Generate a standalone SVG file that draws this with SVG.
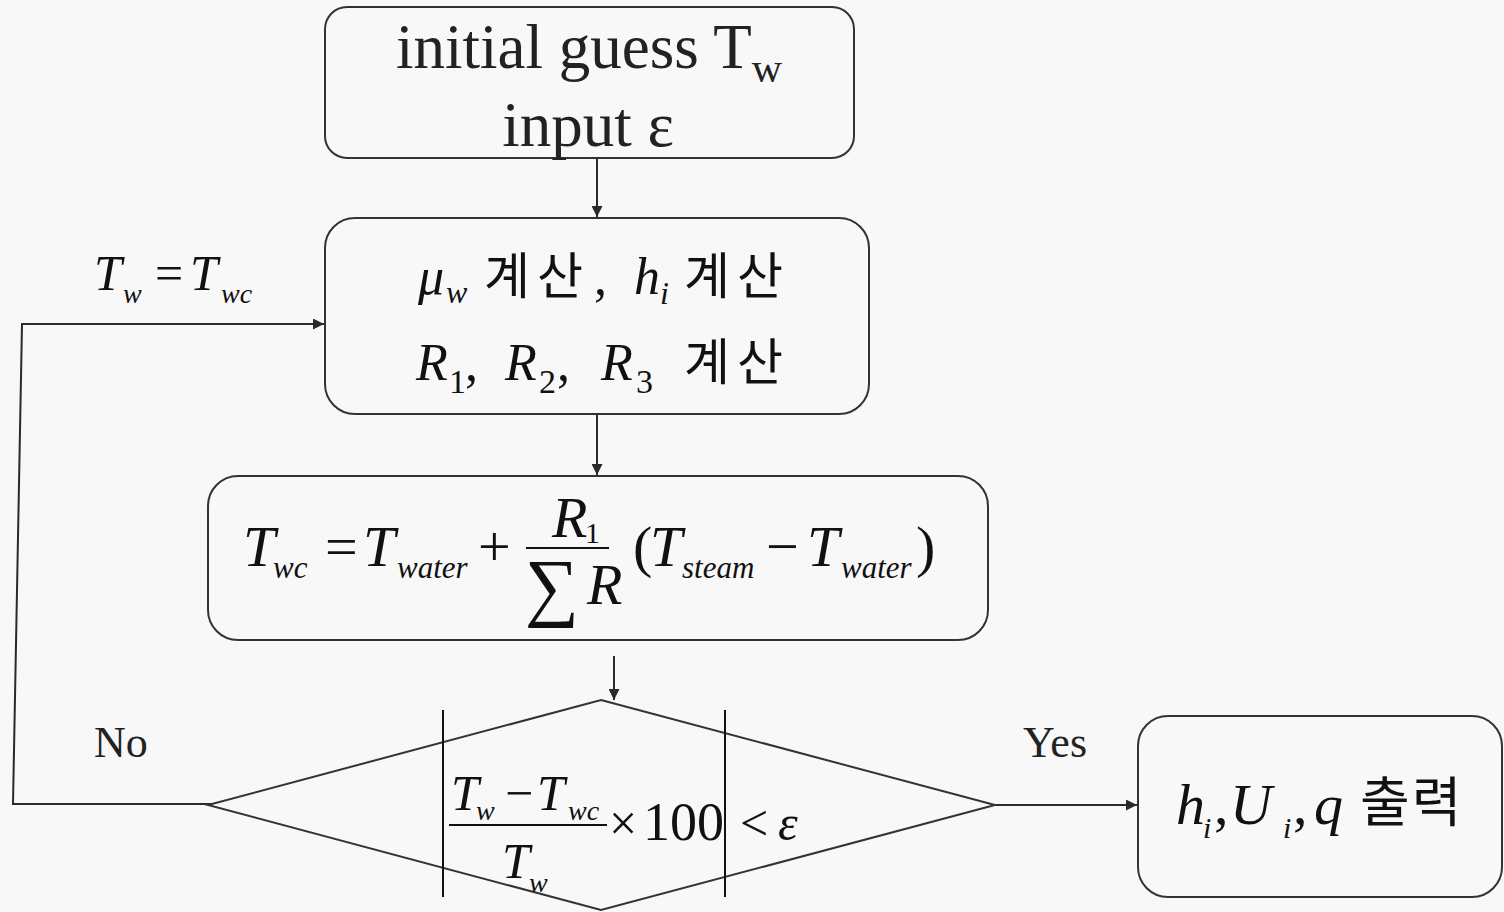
<svg xmlns="http://www.w3.org/2000/svg" width="1504" height="912" viewBox="0 0 1504 912">
<defs>
<marker id="arr" viewBox="0 0 10 10" refX="10" refY="5" markerWidth="11" markerHeight="11" markerUnits="userSpaceOnUse" orient="auto">
<path d="M0,0 L10,5 L0,10 Z" fill="#2a2a2a"/>
</marker>
<style>
.box{fill:#f8f8f8;stroke:#333;stroke-width:2}
.ln{fill:none;stroke:#2a2a2a;stroke-width:2}
.t{font-family:"Liberation Serif","Times New Roman",serif;fill:#222}
.m{font-family:"Liberation Serif","Times New Roman",serif;font-style:italic;fill:#111}
.r{font-family:"Liberation Serif","Times New Roman",serif;font-style:normal;fill:#111}
.k{font-family:"Noto Sans CJK KR","Noto Sans",sans-serif;fill:#111}
</style>
</defs>
<rect width="1504" height="912" fill="#f8f8f8"/>

<g id="connectors">
<line class="ln" x1="597" y1="158" x2="597" y2="217" marker-end="url(#arr)"/>
<line class="ln" x1="597" y1="414" x2="597" y2="475" marker-end="url(#arr)"/>
<line class="ln" x1="614" y1="656" x2="614" y2="700" marker-end="url(#arr)"/>
<line class="ln" x1="995" y1="805" x2="1137" y2="805" marker-end="url(#arr)"/>
<polyline class="ln" points="222,804 13,804 22,324 324,324" marker-end="url(#arr)"/>
</g>

<g id="n_init">
<rect class="box" x="325" y="7" width="529" height="151" rx="22"/>
<text class="t" x="396" y="68" font-size="63">initial guess T<tspan font-size="42" dy="14">w</tspan></text>
<text class="t" x="588" y="146" font-size="63" text-anchor="middle">input ε</text>
</g>

<g id="n_calc">
<rect class="box" x="325" y="218" width="544" height="196" rx="30"/>
<text font-size="52"><tspan class="m" x="418" y="294">μ</tspan><tspan class="m" x="446" y="303" font-size="32">w</tspan><tspan class="k" x="484" y="294" font-size="50" letter-spacing="7">계산</tspan><tspan class="r" x="594" y="294">,</tspan><tspan class="m" x="634" y="294">h</tspan><tspan class="m" x="660" y="304" font-size="32">i</tspan><tspan class="k" x="684" y="294" font-size="50" letter-spacing="7">계산</tspan></text>
<text font-size="52"><tspan class="m" x="416" y="380">R</tspan><tspan class="r" x="449" y="393" font-size="34">1</tspan><tspan class="r" x="465" y="380">,</tspan><tspan class="m" x="505" y="380">R</tspan><tspan class="r" x="539" y="393" font-size="34">2</tspan><tspan class="r" x="557" y="380">,</tspan><tspan class="m" x="601" y="380">R</tspan><tspan class="r" x="636" y="393" font-size="34">3</tspan><tspan class="k" x="684" y="380" font-size="50" letter-spacing="7">계산</tspan></text>
</g>

<g id="n_formula">
<rect class="box" x="208" y="476" width="780" height="164" rx="30"/>
<text font-size="58"><tspan class="m" x="243" y="566">T</tspan><tspan class="m" x="273" y="578" font-size="31">wc</tspan><tspan class="r" x="325" y="566">=</tspan><tspan class="m" x="363" y="566">T</tspan><tspan class="m" x="397" y="578" font-size="31">water</tspan><tspan class="r" x="478" y="566">+</tspan><tspan class="m" x="552" y="537">R</tspan><tspan class="r" x="585" y="543" font-size="30">1</tspan><tspan class="m" x="587" y="604">R</tspan><tspan class="r" x="633" y="566">(</tspan><tspan class="m" x="650" y="566">T</tspan><tspan class="m" x="682" y="578" font-size="31">steam</tspan><tspan class="r" x="766" y="566">−</tspan><tspan class="m" x="807" y="566">T</tspan><tspan class="m" x="841" y="578" font-size="31">water</tspan><tspan class="r" x="916" y="566">)</tspan></text>
<line x1="526" y1="548" x2="609" y2="548" stroke="#111" stroke-width="2"/>
<text class="r" x="525" y="612" font-size="76">∑</text>
</g>

<g id="n_check">
<polygon class="box" points="601,700 995,805 601,910 208,805"/>
<line x1="443" y1="710" x2="443" y2="897" stroke="#111" stroke-width="2"/>
<line x1="725" y1="710" x2="725" y2="897" stroke="#111" stroke-width="2"/>
<line x1="449" y1="825" x2="607" y2="825" stroke="#111" stroke-width="2"/>
<text font-size="50"><tspan class="m" x="451" y="810">T</tspan><tspan class="m" x="476" y="820" font-size="28">w</tspan><tspan class="r" x="505" y="810">−</tspan><tspan class="m" x="537" y="810">T</tspan><tspan class="m" x="568" y="820" font-size="28">wc</tspan><tspan class="m" x="502" y="878">T</tspan><tspan class="m" x="529" y="892" font-size="28">w</tspan><tspan class="r" x="609" y="840">×</tspan><tspan class="r" x="643" y="840" font-size="54">100</tspan><tspan class="r" x="740" y="840">&lt;</tspan><tspan class="m" x="778" y="840">ε</tspan></text>
</g>

<g id="n_output">
<rect class="box" x="1138" y="716" width="364" height="181" rx="30"/>
<text font-size="58"><tspan class="m" x="1176" y="824">h</tspan><tspan class="m" x="1203" y="838" font-size="30">i</tspan><tspan class="r" x="1214" y="824">,</tspan><tspan class="m" x="1230" y="824">U</tspan><tspan class="m" x="1283" y="838" font-size="30">i</tspan><tspan class="r" x="1293" y="824">,</tspan><tspan class="m" x="1314" y="824">q</tspan><tspan class="k" x="1360" y="822" font-size="54" letter-spacing="2">출력</tspan></text>
</g>

<g id="labels">
<text font-size="50"><tspan class="m" x="94" y="290">T</tspan><tspan class="m" x="123" y="303" font-size="28">w</tspan><tspan class="r" x="155" y="290">=</tspan><tspan class="m" x="190" y="290">T</tspan><tspan class="m" x="221" y="303" font-size="28">wc</tspan></text>
<text class="t" x="94" y="757" font-size="44">No</text>
<text class="t" x="1023" y="757" font-size="44">Yes</text>
</g>
</svg>
